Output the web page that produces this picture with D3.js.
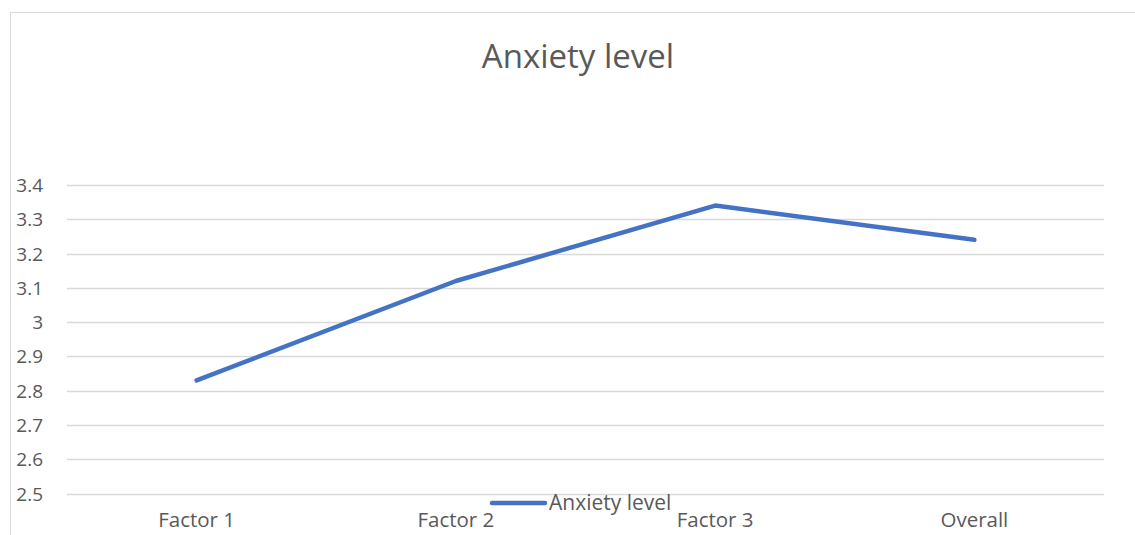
<!DOCTYPE html>
<html><head><meta charset="utf-8">
<script src="https://cdn.jsdelivr.net/npm/d3@7"></script>
<style>body{margin:0;background:#fff}svg{display:block}text{font-family:"Open Sans",sans-serif;fill:#595959}</style>
</head><body><svg id="c" width="1135" height="535"></svg>
<script>
const categories = ["Factor 1","Factor 2","Factor 3","Overall"];
const values = [2.83, 3.12, 3.34, 3.24];
const yTicks = [2.5,2.6,2.7,2.8,2.9,3.0,3.1,3.2,3.3,3.4];
const seriesName = "Anxiety level";
const title = "Anxiety level";

const svg = d3.select("#c");
// chart border
svg.append("line").attr("x1",10.5).attr("x2",1135).attr("y1",12.5).attr("y2",12.5).attr("stroke","#d9d9d9");
svg.append("line").attr("x1",10.5).attr("x2",10.5).attr("y1",12.5).attr("y2",535).attr("stroke","#d9d9d9");

const x = d3.scaleBand().domain(categories).range([67,1104]);
const y = d3.scaleLinear().domain([2.5,3.4]).range([493.5,185]);

svg.append("text").attr("x",578).attr("y",68).attr("text-anchor","middle").attr("font-size",33).text(title);

const g = svg.append("g");
g.selectAll("line.grid").data(yTicks).join("line").attr("class","grid")
  .attr("x1",67).attr("x2",1104).attr("y1",d=>Math.round(y(d))+0.5).attr("y2",d=>Math.round(y(d))+0.5)
  .attr("stroke","#d9d9d9").attr("stroke-width",1.3);
g.selectAll("text.yl").data(yTicks).join("text").attr("class","yl")
  .attr("x",43).attr("y",d=>y(d)+7).attr("text-anchor","end").attr("font-size",19)
  .text(d=>d3.format("")(+d.toFixed(1)));

g.selectAll("text.xl").data(categories).join("text").attr("class","xl")
  .attr("x",d=>x(d)+x.bandwidth()/2).attr("y",527).attr("text-anchor","middle").attr("font-size",20.5).text(d=>d);

const line = d3.line().x((d,i)=>x(categories[i])+x.bandwidth()/2).y(d=>y(d));
svg.append("path").datum(values).attr("d",line).attr("fill","none").attr("stroke","#4472c4")
  .attr("stroke-width",4.5).attr("stroke-linecap","round").attr("stroke-linejoin","round");

// legend
svg.append("line").attr("x1",492).attr("x2",545).attr("y1",503).attr("y2",503)
  .attr("stroke","#4472c4").attr("stroke-width",4.5).attr("stroke-linecap","round");
svg.append("text").attr("x",549).attr("y",510).attr("font-size",21).text(seriesName);
</script></body></html>
